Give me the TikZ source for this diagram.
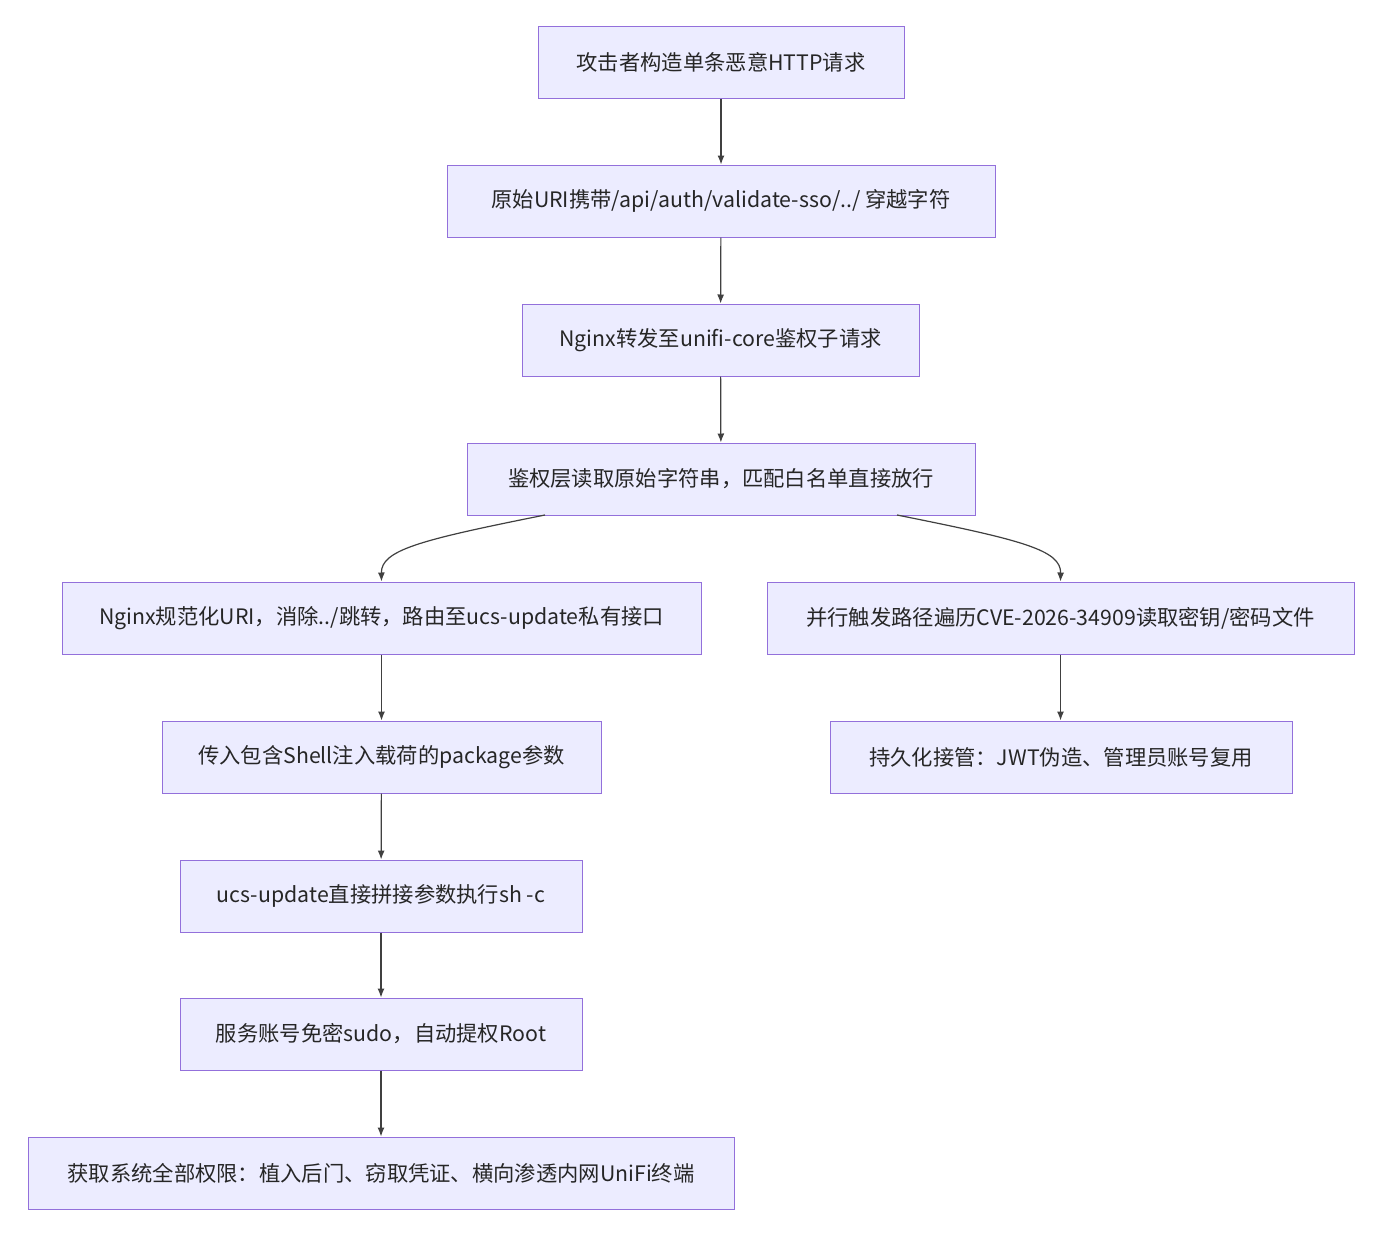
\documentclass[tikz,border=0pt]{standalone}
\usepackage{fontspec}
\setmainfont{Noto Sans CJK SC}
\usetikzlibrary{arrows.meta}
\begin{document}
\begin{tikzpicture}[x=1pt,y=-1pt,
 box/.style={draw=mermaidborder,fill=mermaidfill,line width=1pt,inner sep=0pt,font=\fontsize{21.3}{25}\selectfont,text=black!85},
 arr/.style={-{Latex[length=9pt,width=7pt]},line width=1.2pt,draw=black!75}]
\definecolor{mermaidborder}{HTML}{9370DB}
\definecolor{mermaidfill}{HTML}{ECECFF}
\useasboundingbox[fill=white] (0,0) rectangle (1388,1255);
\newcommand{\bx}[6]{\node[box,minimum width={#4-#2},minimum height={#5-#3}] (#1) at ({(#2+#4)/2},{(#3+#5)/2}) {#6};}
\bx{n1}{538}{27}{904}{98}{攻击者构造单条恶意HTTP请求}
\bx{n2}{447}{165}{995}{237}{原始URI携带/api/auth/validate-sso/../ 穿越字符}
\bx{n3}{522}{304}{919}{376}{Nginx转发至unifi-core鉴权子请求}
\bx{n4}{467}{443}{975}{515}{鉴权层读取原始字符串，匹配白名单直接放行}
\bx{n5}{62}{582}{701}{654}{Nginx规范化URI，消除../跳转，路由至ucs-update私有接口}
\bx{n6}{767}{582}{1354}{654}{并行触发路径遍历CVE-2026-34909读取密钥/密码文件}
\bx{n7}{162}{721}{601}{793}{传入包含Shell注入载荷的package参数}
\bx{n8}{830}{721}{1292}{793}{持久化接管：JWT伪造、管理员账号复用}
\bx{n9}{180}{860}{582}{932}{ucs-update直接拼接参数执行sh -c}
\bx{n10}{180}{998}{582}{1070}{服务账号免密sudo，自动提权Root}
\bx{n11}{28}{1137}{734}{1209}{获取系统全部权限：植入后门、窃取凭证、横向渗透内网UniFi终端}
\draw[arr] (n1) -- (n2);
\draw[arr] (n2) -- (n3);
\draw[arr] (n3) -- (n4);
\draw[arr] (545,515) .. controls (420,540) and (381,550) .. (n5.north);
\draw[arr] (897,515) .. controls (1022,540) and (1061,550) .. (n6.north);
\draw[arr] (n5) -- (n7);
\draw[arr] (n6.south) -- (n6.south|-n8.north);
\draw[arr] (n7) -- (n9);
\draw[arr] (n9) -- (n10);
\draw[arr] (n10) -- (n11);
\end{tikzpicture}
\end{document}
